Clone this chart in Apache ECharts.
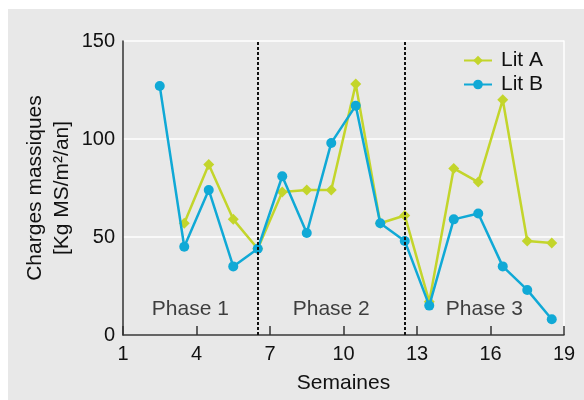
<!DOCTYPE html>
<html>
<head>
<meta charset="utf-8">
<script src="https://cdn.jsdelivr.net/npm/echarts@6/dist/echarts.min.js"></script>
<style>
  html, body { margin: 0; padding: 0; background: #fff; }
  #chart { width: 584px; height: 400px; }
</style>
</head>
<body>
<div id="chart"></div>
<script>
var weeks = [2.5, 3.5, 4.5, 5.5, 6.5, 7.5, 8.5, 9.5, 10.5, 11.5, 12.5, 13.5, 14.5, 15.5, 16.5, 17.5, 18.5];
var litA = [null, 57, 87, 59, 44, 73, 74, 74, 128, 57, 61, 17, 85, 78, 120, 48, 47];
var litB = [127, 45, 74, 35, 44, 81, 52, 98, 117, 57, 48, 15, 59, 62, 35, 23, 8];
var phaseBounds = [6.5, 12.5];
var phaseNames = ['Phase 1', 'Phase 2', 'Phase 3'];
var phaseX = [3.75, 9.5, 15.75];
var phaseY = 13;
var xTicks = [1, 4, 7, 10, 13, 16, 19];

var font = "'Liberation Sans', Arial, sans-serif";
var chart = echarts.init(document.getElementById('chart'));

function pairs(vals) {
    var out = [];
    vals.forEach(function (v, i) {
        if (v !== null) out.push([weeks[i], v]);
    });
    return out;
}

var option = {
    animation: false,
    backgroundColor: '#ffffff',
    textStyle: { fontFamily: font },
    graphic: {
        elements: [{
            type: 'rect', z: -10, silent: true,
            shape: { x: 8, y: 9, width: 576, height: 391 },
            style: { fill: '#e8e8e8' }
        }]
    },
    grid: { left: 123, right: 20, top: 41, bottom: 65 },
    legend: {
        orient: 'vertical',
        left: 458,
        top: 45,
        itemWidth: 28,
        itemHeight: 12,
        itemGap: 3,
        textStyle: { fontSize: 21, color: '#111', fontFamily: font, padding: [0, 0, 0, 4] },
        data: ['Lit A', 'Lit B']
    },
    xAxis: {
        type: 'value',
        min: 1, max: 19, interval: 3,
        name: 'Semaines',
        nameLocation: 'middle',
        nameGap: 38,
        nameTextStyle: { fontSize: 21, color: '#111', fontFamily: font },
        axisLine: { show: true, lineStyle: { color: '#333', width: 1.5 } },
        axisTick: { show: true, inside: true, length: 9, lineStyle: { color: '#333', width: 1.5 } },
        axisLabel: {
            fontSize: 20, color: '#111', margin: 9,
            formatter: function (v) { return xTicks.indexOf(v) >= 0 ? String(v) : ''; }
        },
        splitLine: { show: false }
    },
    yAxis: [{
        type: 'value',
        min: 0, max: 150, interval: 50,
        name: 'Charges massiques\n[Kg MS/m²/an]',
        nameLocation: 'middle',
        nameRotate: 90,
        nameGap: 47,
        nameMoveOverlap: false,
        nameTextStyle: { fontSize: 21, lineHeight: 27, color: '#111', fontFamily: font },
        axisLine: { show: true, lineStyle: { color: '#333', width: 1.5 } },
        axisTick: { show: false },
        axisLabel: { fontSize: 20, color: '#111', margin: 8 },
        splitLine: { show: true, lineStyle: { color: '#ffffff', width: 1.5 } }
    }, {
        type: 'value',
        position: 'right',
        min: 0, max: 150, interval: 50,
        axisLine: { show: true, lineStyle: { color: '#ffffff', width: 1.5 } },
        axisTick: { show: false },
        axisLabel: { show: false },
        splitLine: { show: false }
    }],
    series: [{
        name: 'Lit A',
        type: 'line',
        data: pairs(litA),
        symbol: 'diamond',
        symbolSize: 11,
        color: '#c3d52b',
        lineStyle: { width: 2.5, color: '#c3d52b' },
        itemStyle: { color: '#c3d52b' },
        markLine: {
            silent: true,
            symbol: 'none',
            label: { show: false },
            lineStyle: { type: [3, 2], color: '#111', width: 2 },
            data: phaseBounds.map(function (x) { return { xAxis: x }; })
        },
        z: 3
    }, {
        name: 'Lit B',
        type: 'line',
        data: pairs(litB),
        symbol: 'circle',
        symbolSize: 10,
        color: '#10a9d6',
        lineStyle: { width: 2.5, color: '#10a9d6' },
        itemStyle: { color: '#10a9d6' },
        z: 4
    }, {
        name: 'phases',
        type: 'scatter',
        symbolSize: 0,
        silent: true,
        data: phaseNames.map(function (n, i) { return { name: n, value: [phaseX[i], phaseY] }; }),
        label: {
            show: true,
            position: 'inside',
            formatter: '{b}',
            fontSize: 21,
            color: '#111',
            fontFamily: font
        },
        z: 5
    }]
};

chart.setOption(option);
</script>
</body>
</html>
